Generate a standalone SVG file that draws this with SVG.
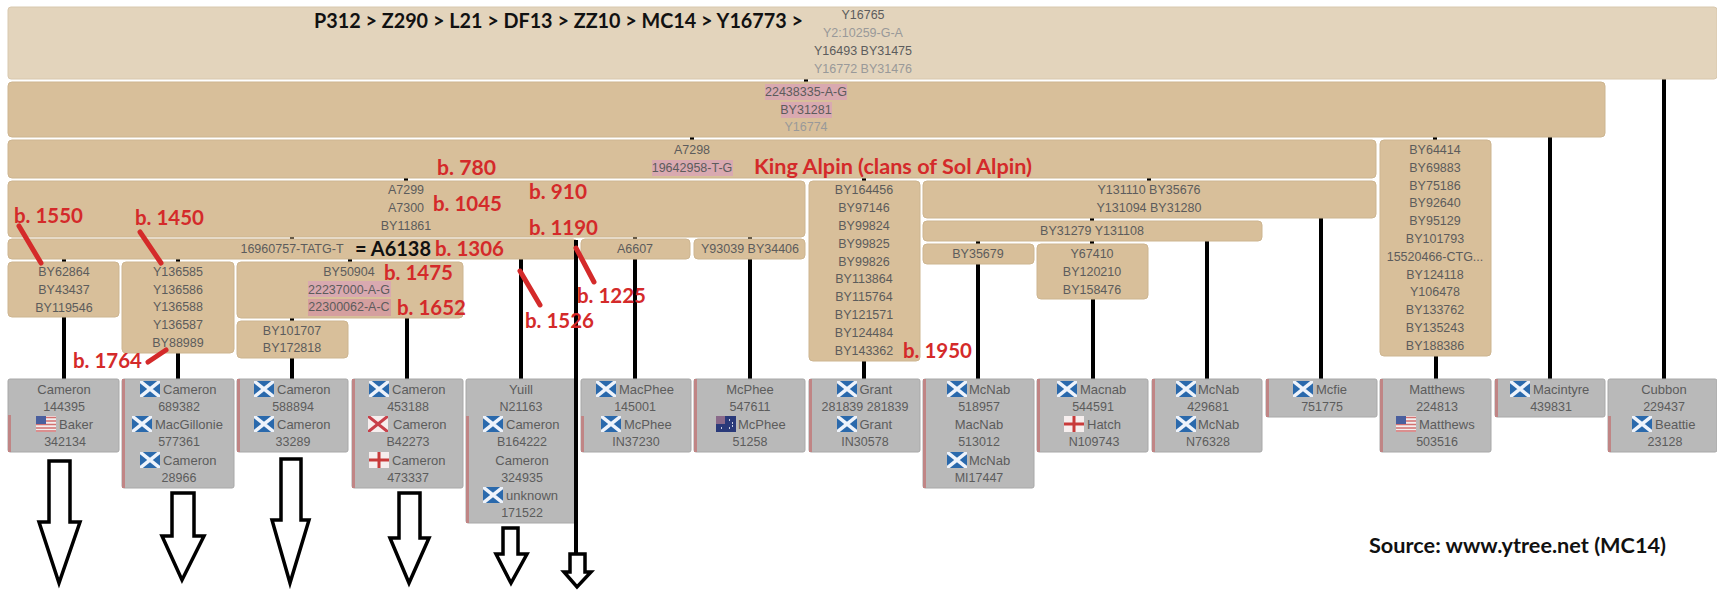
<svg xmlns="http://www.w3.org/2000/svg" width="1717" height="590" viewBox="0 0 1717 590">
<style>
text{font-family:"Liberation Sans",Arial,sans-serif;font-size:12.5px;fill:#5c5c5c;text-anchor:middle;dominant-baseline:central}
.l{fill:#999}
.n{text-anchor:start;font-size:13px;-webkit-text-stroke:.25px #5c5c5c}
.c{font-size:13px;-webkit-text-stroke:.25px #5c5c5c}
.t{fill:#d8bf9a;stroke:#cdb590;stroke-width:1}
.g{fill:#b9b9b9;stroke:#a8a8a8;stroke-width:1}
.b{fill:#c08585}
.h{fill:#d9a9b0}
.r,.k{font-family:Lato,"Liberation Sans",sans-serif;font-weight:700;text-anchor:start;dominant-baseline:auto}
.r{fill:#d42a2a;font-size:20px}
.k{fill:#111;font-size:20px}
.s{stroke:#d42a2a;stroke-width:5;stroke-linecap:round;fill:none}
.a{fill:#fff;stroke:#000;stroke-width:3.5;stroke-linejoin:miter}
</style>
<defs>
<symbol id="sc" width="20" height="16" viewBox="0 0 20 16"><rect width="20" height="16" fill="#2a69ac"/><path d="M0 0L20 16M20 0L0 16" stroke="#eef3fb" stroke-width="3.5"/></symbol>
<symbol id="us" width="20" height="16" viewBox="0 0 20 16"><rect width="20" height="16" fill="#f3eeee"/><path d="M0 1.500H20M0 5H20M0 8.500H20M0 12H20M0 15H20" stroke="#d27070" stroke-width="1.600"/><rect width="10" height="8" fill="#4a5f9e"/></symbol>
<symbol id="en" width="20" height="16" viewBox="0 0 20 16"><rect width="20" height="16" fill="#f6eeee"/><path d="M10 0V16M0 8H20" stroke="#c83a3a" stroke-width="3"/></symbol>
<symbol id="ni" width="20" height="16" viewBox="0 0 20 16"><rect width="20" height="16" fill="#f6eeee"/><path d="M0 0L20 16M20 0L0 16" stroke="#c8404a" stroke-width="3"/></symbol>
<symbol id="au" width="20" height="16" viewBox="0 0 20 16"><rect width="20" height="16" fill="#2a3a7a"/><rect width="9" height="8" fill="#8a6a8a"/><path d="M13 4h1M16 7h1M13 12h1M16 10h1M5 12h1" stroke="#fff" stroke-width="1.500"/></symbol>
</defs>
<rect width="1717" height="590" fill="#fff"/>
<g id="connectors" fill="#000">
<rect x="804" y="79" width="4" height="3"/><rect x="690" y="137" width="4" height="3"/><rect x="404" y="178" width="4" height="3"/><rect x="862" y="178" width="4" height="3"/><rect x="1147" y="178" width="4" height="3"/><rect x="290" y="237" width="4" height="3"/><rect x="633" y="237" width="4" height="3"/><rect x="748" y="237" width="4" height="3"/><rect x="62" y="259" width="4" height="3"/><rect x="176" y="259" width="4" height="3"/><rect x="348" y="259" width="4" height="3"/><rect x="290" y="318" width="4" height="3"/><rect x="1090" y="218" width="4" height="3"/><rect x="976" y="241" width="4" height="3"/><rect x="1090" y="241" width="4" height="3"/><rect x="1433" y="137" width="4" height="3"/>
<rect x="62" y="317" width="4" height="62"/><rect x="176" y="353" width="4" height="26"/><rect x="290" y="358" width="4" height="21"/><rect x="405" y="318" width="4" height="61"/><rect x="519" y="259" width="4" height="120"/><rect x="633" y="259" width="4" height="120"/><rect x="748" y="259" width="4" height="120"/><rect x="862" y="361" width="4" height="18"/><rect x="976" y="264" width="4" height="115"/><rect x="1091" y="299" width="4" height="80"/><rect x="1205" y="241" width="4" height="138"/><rect x="1319" y="218" width="4" height="161"/><rect x="1434" y="356" width="4" height="23"/><rect x="1548" y="137" width="4" height="242"/><rect x="1662" y="79" width="4" height="300"/>
</g>
<g id="n-top"><rect x="8" y="7" width="1709" height="72" rx="3" fill="#e3d4bc" stroke="#d8c8ae"/><text x="863" y="15">Y16765</text><text x="863" y="33" class="l">Y2:10259-G-A</text><text x="863" y="51">Y16493 BY31475</text><text x="863" y="69" class="l">Y16772 BY31476</text></g>
<g id="n-22438335"><rect class="t" x="8" y="82" width="1597" height="55" rx="4"/><rect class="h" x="765" y="84" width="82" height="16"/><rect class="h" x="781" y="102" width="51" height="16"/><text x="806" y="92">22438335-A-G</text><text x="806" y="110">BY31281</text><text x="806" y="127" class="l">Y16774</text></g>
<g id="n-A7298"><rect class="t" x="8" y="140" width="1368" height="38" rx="4"/><rect class="h" x="652" y="160" width="81" height="16"/><text x="692" y="150">A7298</text><text x="692" y="168">19642958-T-G</text></g>
<g id="n-A7299"><rect class="t" x="8" y="181" width="797" height="56" rx="4"/><text x="406" y="190">A7299</text><text x="406" y="208">A7300</text><text x="406" y="226">BY11861</text></g>
<g id="n-16960757"><rect class="t" x="8" y="239" width="569" height="20" rx="4"/><text x="292" y="249">16960757-TATG-T</text></g>
<g id="n-A6607"><rect class="t" x="581" y="239" width="109" height="20" rx="4"/><text x="635" y="249">A6607</text></g>
<g id="n-Y93039"><rect class="t" x="694" y="239" width="111" height="20" rx="4"/><text x="750" y="249">Y93039 BY34406</text></g>
<g id="n-BY62864"><rect class="t" x="8" y="262" width="111" height="55" rx="4"/><text x="64" y="272">BY62864</text><text x="64" y="290">BY43437</text><text x="64" y="308">BY119546</text></g>
<g id="n-Y136585"><rect class="t" x="122" y="262" width="112" height="91" rx="4"/><text x="178" y="272">Y136585</text><text x="178" y="290">Y136586</text><text x="178" y="307">Y136588</text><text x="178" y="325">Y136587</text><text x="178" y="343">BY88989</text></g>
<g id="n-BY50904"><rect class="t" x="237" y="262" width="226" height="56" rx="4"/><rect class="h" x="308" y="281" width="83" height="16"/><rect x="308" y="299" width="83" height="17" fill="#d59f9f"/><text x="349" y="272">BY50904</text><text x="349" y="290">22237000-A-G</text><text x="349" y="307">22300062-A-C</text></g>
<g id="n-BY101707"><rect class="t" x="237" y="321" width="111" height="37" rx="4"/><text x="292" y="331">BY101707</text><text x="292" y="348">BY172818</text></g>
<g id="n-BY164456"><rect class="t" x="809" y="181" width="111" height="180" rx="4"/><text x="864" y="190">BY164456</text><text x="864" y="208">BY97146</text><text x="864" y="226">BY99824</text><text x="864" y="244">BY99825</text><text x="864" y="262">BY99826</text><text x="864" y="279">BY113864</text><text x="864" y="297">BY115764</text><text x="864" y="315">BY121571</text><text x="864" y="333">BY124484</text><text x="864" y="351">BY143362</text></g>
<g id="n-Y131110"><rect class="t" x="923" y="181" width="453" height="37" rx="4"/><text x="1149" y="190">Y131110 BY35676</text><text x="1149" y="208">Y131094 BY31280</text></g>
<g id="n-BY31279"><rect class="t" x="923" y="221" width="339" height="20" rx="4"/><text x="1092" y="231">BY31279 Y131108</text></g>
<g id="n-BY35679"><rect class="t" x="923" y="244" width="111" height="20" rx="4"/><text x="978" y="254">BY35679</text></g>
<g id="n-Y67410"><rect class="t" x="1037" y="244" width="111" height="55" rx="4"/><text x="1092" y="254">Y67410</text><text x="1092" y="272">BY120210</text><text x="1092" y="290">BY158476</text></g>
<g id="n-BY64414"><rect class="t" x="1380" y="140" width="111" height="216" rx="4"/><text x="1435" y="150">BY64414</text><text x="1435" y="168">BY69883</text><text x="1435" y="186">BY75186</text><text x="1435" y="203">BY92640</text><text x="1435" y="221">BY95129</text><text x="1435" y="239">BY101793</text><text x="1435" y="257">15520466-CTG...</text><text x="1435" y="275">BY124118</text><text x="1435" y="292">Y106478</text><text x="1435" y="310">BY133762</text><text x="1435" y="328">BY135243</text><text x="1435" y="346">BY188386</text></g>
<g id="k1"><rect class="g" x="8" y="379" width="111" height="73" rx="2"/><rect class="b" x="8" y="415" width="3" height="37"/><text x="64" y="389" class="c">Cameron</text><text x="64" y="407">144395</text><use href="#us" x="36" y="416"/><text x="59" y="424.500" class="n">Baker</text><text x="65" y="442">342134</text></g>
<g id="k2"><rect class="g" x="122" y="379" width="112" height="109" rx="2"/><rect class="b" x="122" y="379" width="3" height="109"/><use href="#sc" x="140" y="381"/><text x="163" y="389" class="n">Cameron</text><text x="179" y="407">689382</text><use href="#sc" x="132" y="416"/><text x="155" y="424.500" class="n">MacGillonie</text><text x="179" y="442">577361</text><use href="#sc" x="140" y="452"/><text x="163" y="460" class="n">Cameron</text><text x="179" y="478">28966</text></g>
<g id="k3"><rect class="g" x="237" y="379" width="111" height="73" rx="2"/><rect class="b" x="237" y="379" width="3" height="73"/><use href="#sc" x="254" y="381"/><text x="277" y="389" class="n">Cameron</text><text x="293" y="407">588894</text><use href="#sc" x="254" y="416"/><text x="277" y="424.500" class="n">Cameron</text><text x="293" y="442">33289</text></g>
<g id="k4"><rect class="g" x="352" y="379" width="111" height="109" rx="2"/><rect class="b" x="352" y="379" width="3" height="109"/><use href="#sc" x="369" y="381"/><text x="392" y="389" class="n">Cameron</text><text x="408" y="407">453188</text><use href="#ni" x="368" y="416"/><text x="393" y="424.500" class="n">Cameron</text><text x="408" y="442">B42273</text><use href="#en" x="369" y="452"/><text x="392" y="460" class="n">Cameron</text><text x="408" y="478">473337</text></g>
<g id="k5"><rect class="g" x="466" y="379" width="111" height="144" rx="2"/><rect class="b" x="466" y="416" width="3" height="107"/><text x="521" y="389" class="c">Yuill</text><text x="521" y="407">N21163</text><use href="#sc" x="483" y="416"/><text x="506" y="424.500" class="n">Cameron</text><text x="522" y="442">B164222</text><text x="522" y="460" class="c">Cameron</text><text x="522" y="478">324935</text><use href="#sc" x="483" y="487"/><text x="506" y="495" class="n">unknown</text><text x="522" y="513">171522</text></g>
<g id="k6"><rect class="g" x="581" y="379" width="110" height="73" rx="2"/><rect class="b" x="581" y="416" width="3" height="36"/><use href="#sc" x="596" y="381"/><text x="619" y="389" class="n">MacPhee</text><text x="635" y="407">145001</text><use href="#sc" x="601" y="416"/><text x="624" y="424.500" class="n">McPhee</text><text x="636" y="442">IN37230</text></g>
<g id="k7"><rect class="g" x="694" y="379" width="111" height="73" rx="2"/><rect class="b" x="694" y="379" width="3" height="73"/><text x="750" y="389" class="c">McPhee</text><text x="750" y="407">547611</text><use href="#au" x="716" y="416"/><text x="738" y="424.500" class="n">McPhee</text><text x="750" y="442">51258</text></g>
<g id="k8"><rect class="g" x="809" y="379" width="111" height="73" rx="2"/><rect class="b" x="809" y="379" width="3" height="73"/><use href="#sc" x="837" y="381"/><text x="859.500" y="389" class="n">Grant</text><text x="865" y="407">281839 281839</text><use href="#sc" x="837" y="416"/><text x="859.500" y="424.500" class="n">Grant</text><text x="865" y="442">IN30578</text></g>
<g id="k9"><rect class="g" x="923" y="379" width="111" height="109" rx="2"/><rect class="b" x="923" y="379" width="3" height="109"/><use href="#sc" x="947" y="381"/><text x="969" y="389" class="n">McNab</text><text x="979" y="407">518957</text><text x="979" y="424.500" class="c">MacNab</text><text x="979" y="442">513012</text><use href="#sc" x="947" y="452"/><text x="969" y="460" class="n">McNab</text><text x="979" y="478">MI17447</text></g>
<g id="k10"><rect class="g" x="1037" y="379" width="111" height="73" rx="2"/><rect class="b" x="1037" y="379" width="3" height="73"/><use href="#sc" x="1057" y="381"/><text x="1080" y="389" class="n">Macnab</text><text x="1093" y="407">544591</text><use href="#en" x="1064" y="416"/><text x="1087" y="424.500" class="n">Hatch</text><text x="1094" y="442">N109743</text></g>
<g id="k11"><rect class="g" x="1152" y="379" width="110" height="73" rx="2"/><rect class="b" x="1152" y="379" width="3" height="73"/><use href="#sc" x="1176" y="381"/><text x="1198" y="389" class="n">McNab</text><text x="1208" y="407">429681</text><use href="#sc" x="1176" y="416"/><text x="1198" y="424.500" class="n">McNab</text><text x="1208" y="442">N76328</text></g>
<g id="k12"><rect class="g" x="1266" y="379" width="111" height="38" rx="2"/><rect class="b" x="1266" y="379" width="3" height="38"/><use href="#sc" x="1293" y="381"/><text x="1316" y="389" class="n">Mcfie</text><text x="1322" y="407">751775</text></g>
<g id="k13"><rect class="g" x="1380" y="379" width="111" height="73" rx="2"/><rect class="b" x="1380" y="379" width="3" height="73"/><text x="1437" y="389" class="c">Matthews</text><text x="1437" y="407">224813</text><use href="#us" x="1396" y="416"/><text x="1419" y="424.500" class="n">Matthews</text><text x="1437" y="442">503516</text></g>
<g id="k14"><rect class="g" x="1495" y="379" width="110" height="38" rx="2"/><rect class="b" x="1495" y="379" width="3" height="38"/><use href="#sc" x="1510" y="381"/><text x="1533" y="389" class="n">Macintyre</text><text x="1551" y="407">439831</text></g>
<g id="k15"><rect class="g" x="1608" y="379" width="109" height="73" rx="2"/><rect class="b" x="1608" y="416" width="3" height="36"/><text x="1664" y="389" class="c">Cubbon</text><text x="1664" y="407">229437</text><use href="#sc" x="1632" y="416"/><text x="1655" y="424.500" class="n">Beattie</text><text x="1665" y="442">23128</text></g>
<rect x="574" y="240" width="4" height="316" fill="#000"/>
<g id="arrows">
<path class="a" d="M49 461H70V522H80L59 583L39 522H49Z"/>
<path class="a" d="M172 493H194V536H204L182 580L162 536H172Z"/>
<path class="a" d="M281 459H301V520H309L290 583L272 520H281Z"/>
<path class="a" d="M399 493H420V538H429L409 583L390 538H399Z"/>
<path class="a" d="M503 528H518V554H527L511 583L496 554H503Z"/>
<path class="a" d="M570 554H585V572H591L577 587L564 572H570Z"/>
</g>
<g id="dates">
<path class="s" d="M19 226L41 263M140 232L161 263M576 248L594 282M520 271L540 305M148 362L166 350"/>
<text class="k" x="314" y="28" textLength="489" lengthAdjust="spacingAndGlyphs">P312 &gt; Z290 &gt; L21 &gt; DF13 &gt; ZZ10 &gt; MC14 &gt; Y16773 &gt;</text>
<text class="k" x="355" y="256" textLength="76" lengthAdjust="spacingAndGlyphs">= A6138</text>
<text class="r" x="754" y="174" textLength="278" lengthAdjust="spacingAndGlyphs">King Alpin (clans of Sol Alpin)</text>
<text class="r" x="437" y="175" textLength="59" lengthAdjust="spacingAndGlyphs">b. 780</text>
<text class="r" x="433" y="211" textLength="69" lengthAdjust="spacingAndGlyphs">b. 1045</text>
<text class="r" x="529" y="199" textLength="58" lengthAdjust="spacingAndGlyphs">b. 910</text>
<text class="r" x="529" y="235" textLength="69" lengthAdjust="spacingAndGlyphs">b. 1190</text>
<text class="r" x="14" y="223" textLength="69" lengthAdjust="spacingAndGlyphs">b. 1550</text>
<text class="r" x="135" y="225" textLength="69" lengthAdjust="spacingAndGlyphs">b. 1450</text>
<text class="r" x="435" y="256" textLength="69" lengthAdjust="spacingAndGlyphs">b. 1306</text>
<text class="r" x="384" y="280" textLength="69" lengthAdjust="spacingAndGlyphs">b. 1475</text>
<text class="r" x="397" y="315" textLength="69" lengthAdjust="spacingAndGlyphs">b. 1652</text>
<text class="r" x="577" y="303" textLength="69" lengthAdjust="spacingAndGlyphs">b. 1225</text>
<text class="r" x="525" y="328" textLength="69" lengthAdjust="spacingAndGlyphs">b. 1526</text>
<text class="r" x="73" y="368" textLength="69" lengthAdjust="spacingAndGlyphs">b. 1764</text>
<text class="r" x="903" y="358" textLength="69" lengthAdjust="spacingAndGlyphs">b. 1950</text>
<text class="k" x="1369" y="553" textLength="297" lengthAdjust="spacingAndGlyphs">Source: www.ytree.net (MC14)</text>
</g>
</svg>
